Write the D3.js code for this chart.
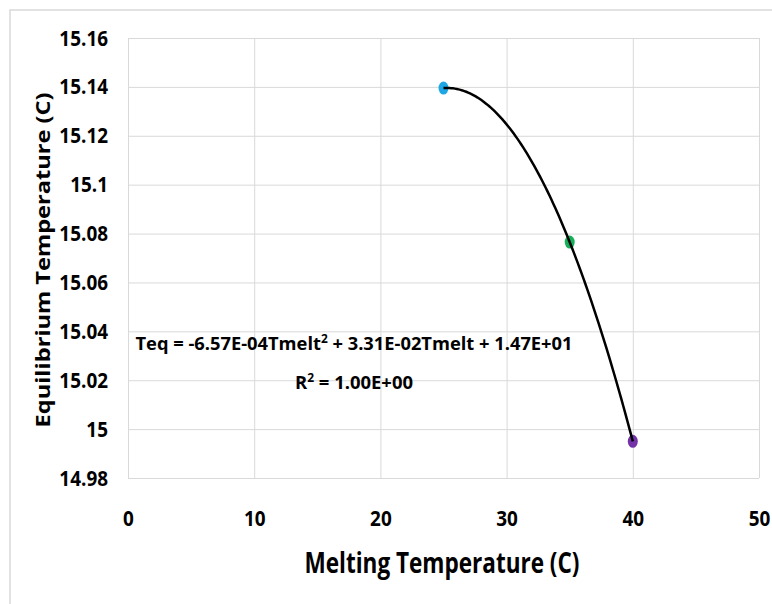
<!DOCTYPE html>
<html><head><meta charset="utf-8">
<script src="https://cdn.jsdelivr.net/npm/d3@7"></script>
<style>
body{margin:0;background:#fff}
text{font-family:"Open Sans",sans-serif;font-weight:700;fill:#000}
</style>
</head><body>
<svg id="chart" width="772" height="604"></svg>
<script>
// ---- data ----
const meltTemps = [25, 35, 40];
const eqTemps = [15.1395, 15.0765, 14.9950];
const pointColors = ["#1ea7e4", "#16b05a", "#7432a8"];
const xTicks = [0, 10, 20, 30, 40, 50];
const yTicks = [14.98, 15.00, 15.02, 15.04, 15.06, 15.08, 15.10, 15.12, 15.14, 15.16];
const yTickLabels = ["14.98", "15", "15.02", "15.04", "15.06", "15.08", "15.1", "15.12", "15.14", "15.16"];
const xTitle = "Melting Temperature (C)";
const yTitle = "Equilibrium Temperature (C)";
const eqParts = ["Teq = -6.57E-04Tmelt", "2", " + 3.31E-02Tmelt + 1.47E+01"];
const r2Parts = ["R", "2", " = 1.00E+00"];

// ---- layout ----
const svg = d3.select("#chart");
const m = {left: 128, top: 38, right: 759, bottom: 478};
const x = d3.scaleLinear().domain([0, 50]).range([m.left, m.right]);
const y = d3.scaleLinear().domain([14.98, 15.16]).range([m.bottom, m.top]);
const grid = "#d9d9d9";
const sx = 0.86;

// outer chart border
svg.append("rect").attr("x", 10).attr("y", 10).attr("width", 900).attr("height", 900)
  .attr("fill", "none").attr("stroke", grid).attr("stroke-width", 1.5);

// y axis + horizontal gridlines
const gy = svg.append("g").attr("transform", `translate(${m.left},0)`)
  .call(d3.axisLeft(y).tickValues(yTicks).tickFormat((d, i) => yTickLabels[i])
    .tickSize(-(m.right - m.left)).tickPadding(20));
gy.select(".domain").remove();
gy.selectAll("line").attr("stroke", grid).attr("stroke-width", 1);
gy.selectAll("text").each(function() {
  const t = d3.select(this);
  t.attr("x", +t.attr("x") / sx).attr("transform", `scale(${sx},1)`).style("font-size", "22px");
});

// x axis + vertical gridlines
const gx = svg.append("g").attr("transform", `translate(0,${m.bottom})`)
  .call(d3.axisBottom(x).tickValues(xTicks).tickFormat(d3.format("d"))
    .tickSize(-(m.bottom - m.top)).tickPadding(32));
gx.select(".domain").remove();
gx.selectAll("line").attr("stroke", grid).attr("stroke-width", 1);
gx.selectAll("text").each(function() {
  const t = d3.select(this);
  const tx = d3.select(this.parentNode).attr("transform");
  t.attr("transform", `scale(${sx},1)`).style("font-size", "22px");
});
// keep x tick labels centred on their tick after horizontal condensing
gx.selectAll(".tick").each(function(d) {
  d3.select(this).select("text").attr("x", 0);
});
svg.selectAll(".tick text").attr("font-family", null).attr("font-size", null).attr("fill", "#000");

// markers
svg.append("g").selectAll("ellipse").data(meltTemps).join("ellipse")
  .attr("cx", d => x(d)).attr("cy", (d, i) => y(eqTemps[i]))
  .attr("rx", 5).attr("ry", 6.5).attr("fill", (d, i) => pointColors[i]);

// quadratic trendline fitted through the data (R^2 = 1)
function lagrange(t) {
  let s = 0;
  for (let i = 0; i < meltTemps.length; i++) {
    let p = eqTemps[i];
    for (let j = 0; j < meltTemps.length; j++) if (j !== i) p *= (t - meltTemps[j]) / (meltTemps[i] - meltTemps[j]);
    s += p;
  }
  return s;
}
const xs = d3.range(0, 101).map(k => d3.min(meltTemps) + k * (d3.max(meltTemps) - d3.min(meltTemps)) / 100);
svg.append("path").datum(xs)
  .attr("d", d3.line().x(d => x(d)).y(d => y(lagrange(d))))
  .attr("fill", "none").attr("stroke", "#000").attr("stroke-width", 2.5);

// trendline label
function supText(parts, cx, by, len) {
  const t = svg.append("text").attr("x", cx).attr("y", by).attr("text-anchor", "middle")
    .style("font-size", "18.5px").attr("textLength", len).attr("lengthAdjust", "spacingAndGlyphs");
  t.append("tspan").text(parts[0]);
  t.append("tspan").attr("dy", -7).style("font-size", "12px").text(parts[1]);
  t.append("tspan").attr("dy", 7).text(parts[2]);
}
supText(eqParts, 354, 350, 437);
supText(r2Parts, 354, 389, 118);

// axis titles
svg.append("text").attr("x", 442).attr("y", 573).attr("text-anchor", "middle")
  .style("font-size", "29px").attr("textLength", 275).attr("lengthAdjust", "spacingAndGlyphs").text(xTitle);
svg.append("text").attr("transform", "translate(50,260) rotate(-90)").attr("text-anchor", "middle")
  .style("font-size", "20px").attr("textLength", 335).attr("lengthAdjust", "spacingAndGlyphs").text(yTitle);
</script>
</body></html>
